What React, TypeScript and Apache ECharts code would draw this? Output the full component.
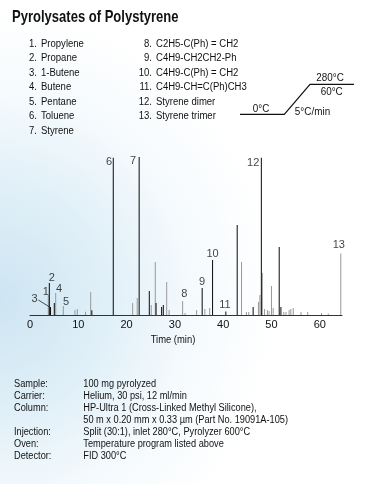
import React, { useEffect, useRef } from "react";
import * as echarts from "echarts";

// ---- data ----
const title = "Pyrolysates of Polystyrene";

const compoundsLeft = ["Propylene", "Propane", "1-Butene", "Butene", "Pentane", "Toluene", "Styrene"];
const compoundsRight = [
  "C2H5-C(Ph) = CH2",
  "C4H9-CH2CH2-Ph",
  "C4H9-C(Ph) = CH2",
  "C4H9-CH=C(Ph)CH3",
  "Styrene dimer",
  "Styrene trimer",
];

// [time (min), relative response %]
const blackPeaks: [number, number][] = [
  [4.0, 20.3], [4.24, 5.1], [5.03, 7.6], [12.8, 3.0], [17.24, 99.5], [22.6, 100],
  [24.7, 15.2], [26.1, 7.6], [27.25, 5.0], [27.6, 6.3], [35.65, 17.1], [37.8, 34.8],
  [40.55, 2.2], [42.9, 57.0], [46.2, 5.0], [47.9, 99.5], [51.6, 43.0], [51.95, 5.0],
];
const greyPeaks: [number, number][] = [
  [3.79, 12.7], [5.32, 13.9], [6.9, 5.7], [9.3, 3.2], [9.8, 3.8], [11.5, 2.0], [12.56, 14.6],
  [21.25, 7.6], [22.2, 10.8], [25.1, 6.3], [25.94, 33.5], [28.3, 20.9], [28.8, 3.2],
  [31.6, 8.9], [32.1, 1.3], [34.5, 3.2], [36.2, 3.8], [37.2, 4.4], [43.8, 33.5],
  [44.8, 1.9], [45.3, 1.9], [47.3, 8.2], [47.6, 12.7], [48.1, 26.6], [48.55, 3.8],
  [49.15, 3.2], [49.5, 2.5], [50.0, 18.4], [50.35, 4.4], [52.55, 1.9], [53.0, 1.9],
  [53.65, 3.2], [54.0, 3.8], [54.5, 4.4], [56.1, 1.9], [57.5, 1.9], [60.35, 1.3],
  [61.75, 1.0], [64.35, 39.0],
];

// peak number -> retention time of the labelled peak
const peakLabels = ["1", "2", "3", "4", "5", "6", "7", "8", "9", "10", "11", "12", "13"];
const peakLabelTimes = [3.79, 4.0, 4.24, 5.32, 6.9, 17.24, 22.6, 31.6, 35.65, 37.8, 40.55, 47.9, 64.35];

const xTicks = [0, 10, 20, 30, 40, 50, 60];
const xName = "Time (min)";

const conditionLabels = ["Sample:", "Carrier:", "Column:", "", "Injection:", "Oven:", "Detector:"];
const conditionValues = [
  "100 mg pyrolyzed",
  "Helium, 30 psi, 12 ml/min",
  "HP-Ultra 1 (Cross-Linked Methyl Silicone),",
  "50 m x 0.20 mm x 0.33 \u00b5m (Part No. 19091A-105)",
  "Split (30:1), inlet 280\u00b0C, Pyrolyzer 600\u00b0C",
  "Temperature program listed above",
  "FID 300\u00b0C",
];

const tempLabels = ["0\u00b0C", "280\u00b0C", "60\u00b0C", "5\u00b0C/min"];

// ---- styles ----
const FONT = "'Liberation Sans', Arial, Helvetica, sans-serif";
const INK = "#111111";
const NARROW = 0.83;
const labelOffsets: Record<string, [number, number]> = {
  "1": [-2.5, -4], "2": [2.4, -5.5], "3": [-16, -8.5], "4": [3.3, -4.7], "5": [2.7, -5.3],
  "6": [-4.3, 3], "7": [-6, 3], "8": [1.6, -7.7], "9": [0, -7], "10": [0, -7],
  "11": [-1, -8], "12": [-8.2, 4], "13": [-2, -9],
};

function txt(
  x: number,
  y: number,
  text: string,
  size: number,
  align: "left" | "right" | "center" = "left",
  scale = NARROW,
  weight = "normal"
) {
  return {
    type: "text",
    x,
    y,
    scaleX: scale,
    scaleY: 1,
    style: {
      text,
      fill: INK,
      font: `${weight} ${size}px ${FONT}`,
      align,
      verticalAlign: "middle",
    },
  };
}

export default function App() {
  const ref = useRef<HTMLDivElement>(null);

  useEffect(() => {
    if (!ref.current) return;
    const chart = echarts.init(ref.current, null, { renderer: "svg" });

    const allPeaks = [...greyPeaks, ...blackPeaks];
    const findPeak = (t: number) => allPeaks.find((p) => Math.abs(p[0] - t) < 1e-6) as [number, number];

    const barData = [
      ...greyPeaks.map((p) => ({ value: p, itemStyle: { color: "#999999" } })),
      ...blackPeaks.map((p) => ({ value: p, itemStyle: { color: "#0a0a0a" } })),
    ];

    const labelData = peakLabels.map((name, i) => {
      const p = findPeak(peakLabelTimes[i]);
      return {
        value: p,
        name,
        label: { offset: labelOffsets[name] },
      };
    });
    const p3 = findPeak(peakLabelTimes[2]);

    const graphics: any[] = [];
    graphics.push(txt(12, 16, title, 16.5, "left", 0.79, "bold"));
    compoundsLeft.forEach((c, i) => {
      const y = 42.7 + i * 14.43;
      graphics.push(txt(37, y, `${i + 1}.`, 11.5, "right"));
      graphics.push(txt(41, y, c, 11.5, "left"));
    });
    compoundsRight.forEach((c, i) => {
      const y = 42.7 + i * 14.43;
      graphics.push(txt(152, y, `${i + 8}.`, 11.5, "right"));
      graphics.push(txt(156, y, c, 11.5, "left"));
    });
    // temperature programme sketch
    graphics.push({
      type: "polyline",
      shape: { points: [[240, 114.3], [284.3, 114.3], [310, 84.3], [354, 84.3]] },
      style: { stroke: "#111", lineWidth: 1.2, fill: "none" },
    });
    const tempPos: [number, number][] = [[261, 107.3], [330, 76.7], [331.7, 90.7], [312.5, 111]];
    tempLabels.forEach((t, i) => {
      graphics.push(txt(tempPos[i][0], tempPos[i][1], t, 11.5, "center", 0.86));
    });
    graphics.push(txt(173, 339, xName, 11.5, "center", 0.82));
    conditionLabels.forEach((l, i) => {
      const y = 383.3 + i * 11.95;
      if (l) graphics.push(txt(14, y, l, 11, "left", 0.84));
      graphics.push(txt(83.3, y, conditionValues[i], 11, "left", 0.84));
    });

    chart.setOption({
      animation: false,
      backgroundColor: "transparent",
      grid: { left: 30, right: 25, top: 157, bottom: 169, containLabel: false },
      xAxis: {
        type: "value",
        min: 0,
        max: 64.6,
        interval: 10,
        axisLine: { show: true, lineStyle: { color: "#333", width: 1 } },
        axisTick: { show: false },
        splitLine: { show: false },
        axisLabel: {
          margin: 3,
          color: INK,
          fontSize: 11,
          fontFamily: FONT,
          formatter: (v: number) => (xTicks.includes(v) ? String(v) : ""),
        },
      },
      yAxis: { type: "value", min: 0, max: 100, show: false },
      series: [
        {
          type: "bar",
          barWidth: 1,
          data: barData,
          silent: true,
        },
        {
          type: "scatter",
          symbolSize: 1,
          itemStyle: { color: "transparent" },
          data: labelData,
          label: {
            show: true,
            position: "inside",
            formatter: (p: any) => p.name,
            color: INK,
            fontSize: 11,
            fontFamily: FONT,
            align: "center",
            verticalAlign: "middle",
          },
          markLine: {
            silent: true,
            symbol: ["none", "none"],
            label: { show: false },
            lineStyle: { color: "#222", width: 0.8, type: "solid" },
            data: [[{ coord: [p3[0] - 2.52, p3[1] + 4.4] }, { coord: [p3[0] - 0.3, p3[1] + 0.2] }]],
          },
        },
      ],
      graphic: graphics,
    });

    return () => chart.dispose();
  }, []);

  return (
    <div
      style={{
        position: "fixed",
        left: 0,
        top: 0,
        width: 367,
        height: 484,
        background:
          "radial-gradient(ellipse 75% 60% at 0% 62%, #cde5f2 0%, #e1f0f8 40%, #f5fafd 70%, #ffffff 100%)",
      }}
    >
      <div ref={ref} style={{ width: 367, height: 484 }} />
    </div>
  );
}
